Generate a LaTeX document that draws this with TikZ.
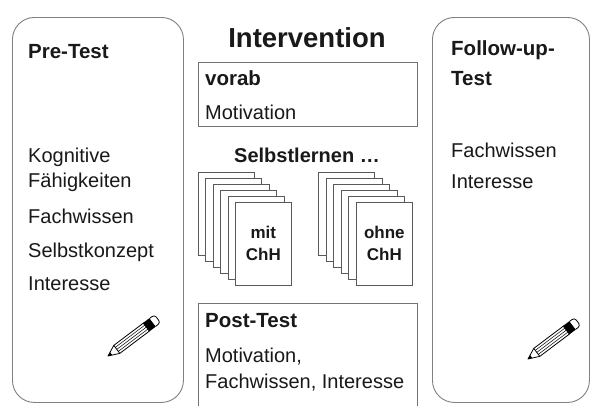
\documentclass[tikz,border=0pt]{standalone}
\usepackage{fontspec}
\setmainfont{Liberation Sans}
\begin{document}
\begin{tikzpicture}[x=1pt,y=-1pt,
  frame/.style={draw=black!50, line width=0.9pt, rounded corners=22pt, anchor=north west, inner sep=0pt},
  box/.style={draw=black!55, line width=0.9pt, anchor=north west, inner sep=0pt},
  page/.style={draw=black!65, fill=white, line width=0.7pt, minimum width=56pt, minimum height=83pt, anchor=north west, inner sep=0pt},
  txt/.style={anchor=base west, inner sep=0pt, text=black!90, font=\fontsize{20}{24}\selectfont},
  head/.style={anchor=base west, inner sep=0pt, text=black!90, font=\fontsize{20.5}{24}\selectfont\bfseries},
  pagetxt/.style={align=center, text=black!90, font=\fontsize{17}{22}\selectfont\bfseries},
  pencil/.pic={
    % lead and cone
    \draw[line width=0.8pt, fill=white, line join=round] (11,-5) -- (0,0) -- (11,5);
    \fill (0,0) -- (4,-1.8) -- (4,1.8) -- cycle;
    % wooden body with grooves
    \draw[line width=0.8pt, fill=white] (11,-5) rectangle (48,5);
    \draw[line width=0.5pt] (11,-2.5) -- (48,-2.5) (11,0) -- (48,0) (11,2.5) -- (48,2.5);
    % ferrule
    \fill (48,-5.3) rectangle (56,5.3);
    % eraser
    \draw[line width=0.8pt, fill=white, rounded corners=3pt] (56,-5) -- (62,-5) -- (62,5) -- (56,5);
  }
]
\useasboundingbox[fill=white] (0,0) rectangle (590,405);

% three phases
\node[frame, minimum width=171pt, minimum height=385pt] (pre) at (12,17) {};
\node[frame, minimum width=157pt, minimum height=385pt] (follow) at (432,17) {};

% pre-test
\node[head] (preT) at (28,58) {Pre-Test};
\node[txt] (pre1) at (28,162) {Kognitive};
\node[txt] (pre2) at (28,187) {Fähigkeiten};
\node[txt] (pre3) at (28,223) {Fachwissen};
\node[txt] (pre4) at (28,257) {Selbstkonzept};
\node[txt] (pre5) at (28,290) {Interesse};
\pic[rotate=37] (penA) at (108,356) {pencil};

% intervention
\node[anchor=base, inner sep=0pt, text=black!90, font=\fontsize{27.5}{30}\selectfont\bfseries] (int) at (307,47) {Intervention};
\node[box, minimum width=219pt, minimum height=64pt] (vorab) at (198,62) {};
\node[head] (vorabT) at (205,85) {vorab};
\node[txt] (vorab1) at (205,119) {Motivation};

\node[anchor=base, inner sep=0pt, text=black!90, font=\fontsize{20}{24}\selectfont\bfseries] (selbst) at (307,162) {Selbstlernen \dots};

\foreach \i in {0,...,4} {
  \node[page] (m\i) at (198+7.4*\i,172+6*\i) {};
}
\node[page, pagetxt] (m5) at (235,202) {mit\\ChH};
\foreach \i in {0,...,4} {
  \node[page] (o\i) at (318+7.6*\i,172+6*\i) {};
}
\node[page, pagetxt] (o5) at (356,202) {ohne\\ChH};

\node[box, minimum width=219pt, minimum height=112pt] (post) at (198,303) {};
\node[head] (postT) at (205,327) {Post-Test};
\node[txt] (post1) at (205,362) {Motivation,};
\node[txt] (post2) at (205,388) {Fachwissen, Interesse};

% follow-up test
\node[head] (folT1) at (451,55) {Follow-up-};
\node[head] (folT2) at (451,85) {Test};
\node[txt] (fol1) at (451,157) {Fachwissen};
\node[txt] (fol2) at (451,188) {Interesse};
\pic[rotate=37] (penB) at (528,359) {pencil};
\end{tikzpicture}
\end{document}
